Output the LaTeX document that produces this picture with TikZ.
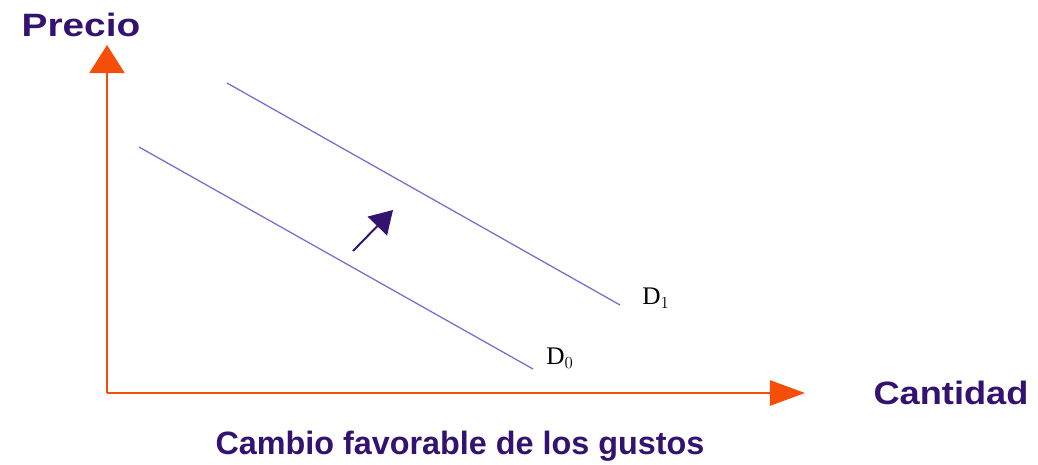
\documentclass[tikz,border=0pt]{standalone}
\usepackage{fontspec}
\setmainfont{Liberation Serif}
\setsansfont{Liberation Sans}
\usetikzlibrary{arrows.meta}

\begin{document}
\begin{tikzpicture}[x=0.025cm, y=-0.025cm, every node/.style={inner sep=0pt}]
			% Define colors
			\definecolor{axis_orange}{RGB}{245, 78, 8}
			\definecolor{curve_purple}{RGB}{128, 104, 208}
			\definecolor{title_purple}{RGB}{52, 18, 112}

			% Styles
			\tikzstyle{axis_line} = [draw=axis_orange, line width=1.4pt]
			\tikzstyle{demand_line} = [draw=curve_purple, line width=0.9pt]
			\tikzstyle{shift_arrow} = [draw=title_purple, line width=1.4pt, -{Triangle[length=16pt, width=19pt]}]
			\tikzstyle{axis_label} = [text=title_purple, font=\sffamily\bfseries\fontsize{23}{26}\selectfont]
			\tikzstyle{curve_label} = [text=black, font=\rmfamily\fontsize{18}{20}\selectfont, anchor=west]

			\useasboundingbox (0, 0) rectangle (1038, 465);

			% Axes
			\coordinate (origin) at (107, 393);
			\coordinate (ytip) at (107, 45);
			\coordinate (xtip) at (805, 393);
			\draw[axis_line, -{Triangle[length=20pt, width=25pt]}] (origin) -- (ytip);
			\draw[axis_line, -{Triangle[length=25pt, width=18pt]}] (origin) -- (xtip);

			% Demand curves
			\coordinate (d0start) at (139, 147);
			\coordinate (d0end) at (533, 369);
			\coordinate (d1start) at (227, 83);
			\coordinate (d1end) at (620, 305);
			\draw[demand_line] (d0start) -- (d0end);
			\draw[demand_line] (d1start) -- (d1end);

			% Shift arrow
			\coordinate (shiftfrom) at (353, 251);
			\coordinate (shiftto) at (393, 210);
			\draw[shift_arrow] (shiftfrom) -- (shiftto);

			% Labels
			\node[curve_label] (dzero) at (546, 358) {D$_0$};
			\node[curve_label] (done) at (642, 298) {D$_1$};
			\node[axis_label, xscale=1.2] (precio) at (81, 25) {Precio};
			\node[axis_label, xscale=1.12] (cantidad) at (951, 393) {Cantidad};
			\node[axis_label] (caption) at (460, 446) {Cambio favorable de los gustos};

		\end{tikzpicture}
\end{document}
